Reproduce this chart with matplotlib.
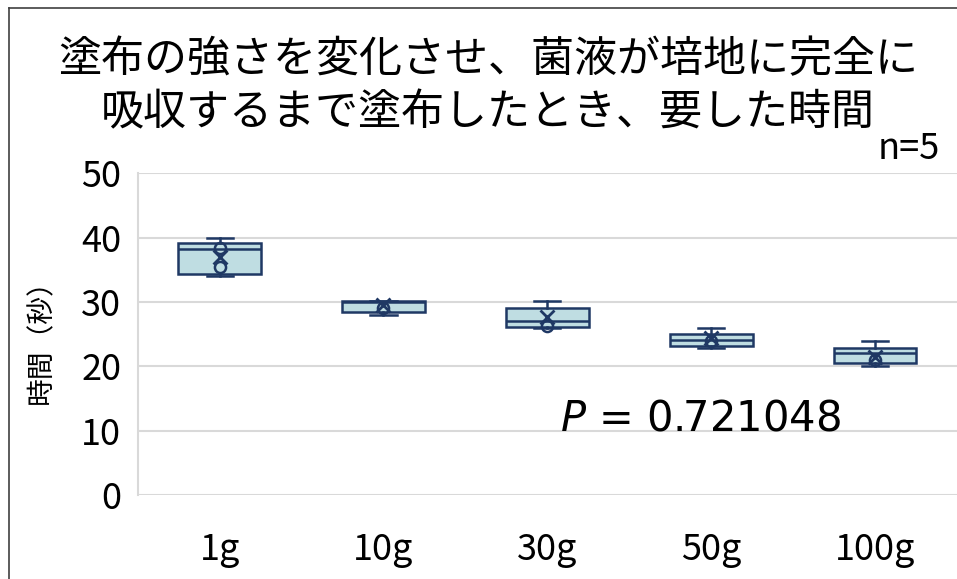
import numpy as np
import matplotlib
matplotlib.use("Agg")
import matplotlib.pyplot as plt
from matplotlib.lines import Line2D

plt.rcParams['font.family'] = ['Noto Sans CJK JP', 'DejaVu Sans']

# values (seconds)
labels = ["1g", "10g", "30g", "50g", "100g"]
whis_lo = [34, 28, 26, 22.8, 20]
q1 = [34.4, 28.5, 26.1, 23.2, 20.5]
median = [38.3, 30, 27, 24.1, 22]
q3 = [39.1, 30.1, 29, 25, 22.8]
whis_hi = [40, 30.1, 30.1, 25.9, 24]
means = [37.0, 29.5, 27.7, 24.4, 21.4]
inner_pts = [[35.5, 38.4], [29], [26.2], [24], [21]]

box_fill = "#BFDDE2"
box_edge = "#1F3864"

fig = plt.figure(figsize=(9.57, 5.79), dpi=100)
ax = fig.add_axes([0.1439, 0.1451, 0.856, 0.5556])

stats = []
for i in range(len(labels)):
    stats.append(dict(med=median[i], q1=q1[i], q3=q3[i],
                      whislo=whis_lo[i], whishi=whis_hi[i],
                      mean=means[i], fliers=[], label=labels[i]))

pos = np.arange(len(labels))
ax.bxp(stats, positions=pos, widths=0.506, patch_artist=True,
       showmeans=True, showfliers=False,
       boxprops=dict(facecolor=box_fill, edgecolor=box_edge, linewidth=1.8),
       medianprops=dict(color=box_edge, linewidth=1.8),
       whiskerprops=dict(color=box_edge, linewidth=1.8),
       capprops=dict(color=box_edge, linewidth=1.8),
       meanprops=dict(marker="x", markeredgecolor=box_edge, markersize=10,
                      markeredgewidth=2),
       capwidths=0.16)

for i, pts in enumerate(inner_pts):
    ax.plot([pos[i]] * len(pts), pts, linestyle="none", marker="o",
            markersize=8, markerfacecolor="none", markeredgecolor=box_edge,
            markeredgewidth=1.8)

ax.set_xlim(-0.5, 4.5)
ax.set_ylim(0, 50)
ax.set_yticks(np.arange(0, 51, 10))
ax.yaxis.grid(True, color="#D9D9D9", linewidth=1.5)
ax.set_axisbelow(True)
for s in ["top", "right", "bottom"]:
    ax.spines[s].set_visible(False)
ax.spines["left"].set_color("#D9D9D9")
ax.spines["left"].set_linewidth(1.5)
ax.tick_params(axis="both", length=0, labelsize=26, colors="#000000")
ax.tick_params(axis="y", pad=12)
ax.tick_params(axis="x", pad=27)
ax.set_xticks(pos)
ax.set_xticklabels(labels)

ax.set_ylabel("時間（秒）", fontsize=20)
ax.yaxis.set_label_coords(-0.1, 0.5)

fig.text(0.51, 0.85, "塗布の強さを変化させ、菌液が培地に完全に\n吸収するまで塗布したとき、要した時間",
         ha="center", va="center", fontsize=31, linespacing=1.28)
fig.text(0.982, 0.742, "n=5", ha="right", va="center", fontsize=26)

fig.text(0.585, 0.278, "$P$ = 0.721048", ha="left", va="center", fontsize=30,
         family="DejaVu Sans")

# chart border (top and left visible in the crop)
fig.add_artist(Line2D([0.0094, 0.0094], [0, 0.986], transform=fig.transFigure,
                      color="#404040", linewidth=1.2))
fig.add_artist(Line2D([0.0094, 1], [0.986, 0.986], transform=fig.transFigure,
                      color="#404040", linewidth=1.2))

fig.savefig("out.png", dpi=100)
